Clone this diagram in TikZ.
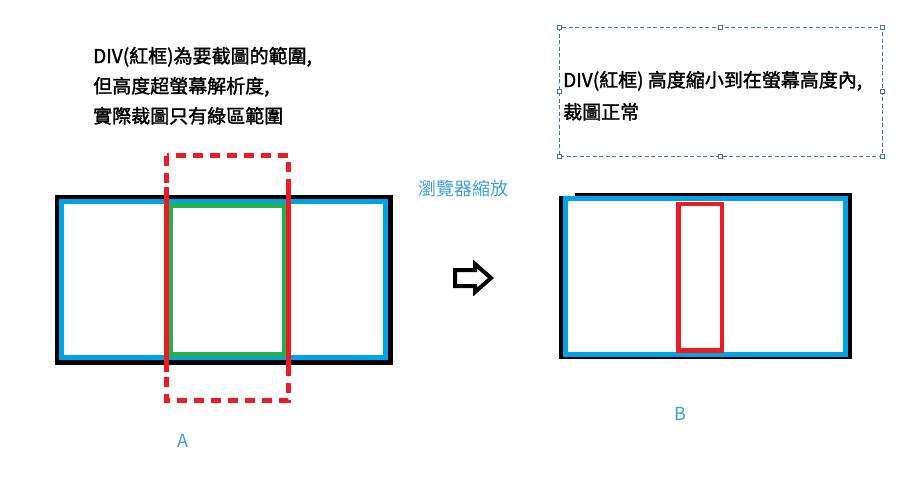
\documentclass[tikz,border=0pt]{standalone}
\usepackage{fontspec}
\newfontfamily\cjk[FakeBold=1.6]{Noto Sans CJK TC}
\newfontfamily\cjkl{Noto Sans CJK TC}
\definecolor{pblue}{HTML}{00A2E8}
\definecolor{pred}{HTML}{ED1C24}
\definecolor{pgreen}{HTML}{22B14C}
\definecolor{lbl}{HTML}{3BA0DA}
\definecolor{selc}{HTML}{3A7CA5}
\tikzset{
  blackframe/.style={draw=black, line width=5pt},
  blueframe/.style={draw=pblue, line width=5pt},
  redframe/.style={draw=pred, line width=4.5pt},
  greenframe/.style={draw=pgreen, line width=5pt},
  reddash/.style={draw=pred, line width=5pt, dash pattern=on 10pt off 7pt},
  txt/.style={font=\cjk\fontsize{19pt}{22pt}\selectfont, anchor=base west, inner sep=0pt, text=black},
  lbltxt/.style={font=\cjkl\fontsize{18pt}{22pt}\selectfont, inner sep=0pt, text=lbl},
  handle/.style={draw=selc, fill=white, line width=0.7pt, minimum size=4pt, inner sep=0pt},
  selbox/.style={draw=selc, line width=0.9pt, dash pattern=on 4pt off 2.5pt},
  blockarrow/.style={draw=black, line width=4pt, line join=miter}
}
\begin{document}
\begin{tikzpicture}[x=1pt,y=-1pt]
\useasboundingbox (0,0) rectangle (920,488);
\fill[white] (0,0) rectangle (920,488);

% ---- left text
\node[txt] (l1) at (93,63) {DIV(紅框)為要截圖的範圍,};
\node[txt] (l2) at (93,93) {但高度超螢幕解析度,};
\node[txt] (l3) at (93,123) {實際裁圖只有綠區範圍};

% ---- left diagram
\draw[blackframe] (57,197) rectangle (390,362);
\draw[blueframe] (61,201) rectangle (385,357.5);
\draw[greenframe] (170.5,205.5) rectangle (284.5,354);
\draw[reddash] (166.5,155.5) rectangle (288.5,400);
\draw[draw=pred, line width=5pt] (166.5,187) -- (166.5,372);
\draw[draw=pred, line width=5pt] (288.5,187) -- (288.5,372);
\node[lbltxt] (A) at (183,441) {A};

% ---- middle
\node[lbltxt] (zoom) at (463,189) {瀏覽器縮放};
\draw[blockarrow] (455,270) -- (475,270) -- (475,264) -- (491,278) -- (475,292) -- (475,286) -- (455,286) -- cycle;

% ---- right text box
\coordinate (s1) at (559,27);
\coordinate (s2) at (882,156);
\draw[selbox] (s1) rectangle (s2);
\foreach \p in {(559,27),(720.5,27),(882,27),(559,91.5),(882,91.5),(559,156),(720.5,156),(882,156)}
  \node[handle] at \p {};
\node[txt] (r1) at (563,87) {DIV(紅框) 高度縮小到在螢幕高度內,};
\node[txt] (r2) at (563,119) {裁圖正常};

% ---- right diagram
\draw[draw=black, line width=4pt] (575,195) -- (850,195) -- (850,356.5) -- (561,356.5) -- (561,196);
\draw[blueframe] (565.5,198.5) rectangle (845,354);
\draw[redframe] (678.5,204) rectangle (722,350.5);
\node[lbltxt] (B) at (680,414) {B};
\end{tikzpicture}
\end{document}
